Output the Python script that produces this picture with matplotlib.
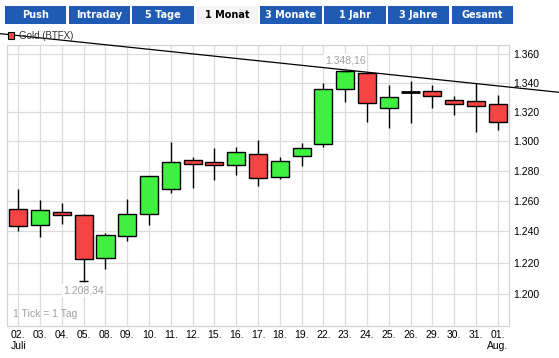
import numpy as np
import matplotlib
matplotlib.use("Agg")
import matplotlib.pyplot as plt
from matplotlib.patches import Rectangle
from matplotlib.ticker import FixedLocator, NullLocator

plt.rcParams['font.family'] = ['Liberation Sans', 'DejaVu Sans']

# Gold (BTFX), daily candles, July 2013
days = ['02.', '03.', '04.', '05.', '08.', '09.', '10.', '11.', '12.', '15.', '16.', '17.',
        '18.', '19.', '22.', '23.', '24.', '25.', '26.', '29.', '30.', '31.', '01.']
opens = [1.2545, 1.2441, 1.2526, 1.2508, 1.2229, 1.2370, 1.2513, 1.2677, 1.2869, 1.2856, 1.2836, 1.2910,
         1.2758, 1.2896, 1.2981, 1.3354, 1.3466, 1.3223, 1.3338, 1.3343, 1.3278, 1.3273, 1.3250]
highs = [1.2679, 1.2606, 1.2585, 1.2515, 1.2391, 1.2613, 1.2765, 1.2993, 1.2892, 1.2952, 1.2959, 1.3006,
         1.2890, 1.2986, 1.3400, 1.34816, 1.3473, 1.3384, 1.3414, 1.3384, 1.3308, 1.3396, 1.3315]
lows = [1.2400, 1.2367, 1.2451, 1.20834, 1.2157, 1.2335, 1.2439, 1.2648, 1.2681, 1.2740, 1.2773, 1.2700,
        1.2743, 1.2827, 1.2961, 1.3268, 1.3131, 1.3090, 1.3124, 1.3227, 1.3179, 1.3059, 1.3076]
closes = [1.2435, 1.2539, 1.2508, 1.2223, 1.2377, 1.2513, 1.2763, 1.2856, 1.2843, 1.2836, 1.2923, 1.2751,
          1.2863, 1.2950, 1.3354, 1.3480, 1.3259, 1.3299, 1.3338, 1.3306, 1.3252, 1.3237, 1.3129]
yticks = [1.200, 1.220, 1.240, 1.260, 1.280, 1.300, 1.320, 1.340, 1.360]
trend_x = [-0.84, 24.81]
trend_y = [1.3747, 1.3333]
tabs = ['Push', 'Intraday', '5 Tage', '1 Monat', '3 Monate', '1 Jahr', '3 Jahre', 'Gesamt']

W, H = 559, 358
fig = plt.figure(figsize=(W / 100, H / 100), dpi=100)

def fx(x):
    return x / W

def fy(y):
    return 1 - y / H

# tab bar
for i, t in enumerate(tabs):
    x0 = 4.7 + i * 63.86
    active = t == '1 Monat'
    fig.patches.append(Rectangle((fx(x0), fy(24)), fx(61.5), 18 / H, transform=fig.transFigure,
                                 facecolor='#f5f5f5' if active else '#1f5bb4', edgecolor='none'))
    fig.text(fx(x0 + 30.75), fy(15.5), t, ha='center', va='center', fontsize=7,
             family='DejaVu Sans', fontweight='bold', color='black' if active else 'white')

ax = fig.add_axes([fx(7), fy(326), fx(509 - 7), (326 - 45) / H])
ax.set_yscale('log')
ax.set_xlim(-0.52, 22.52)
ax.set_ylim(1.1803, 1.3666)

x = np.arange(len(days))
green = '#40f040'
red = '#f44444'
for i in x:
    o, h, l, c = opens[i], highs[i], lows[i], closes[i]
    ax.vlines(i, l, h, color='black', lw=1, zorder=2)
    if abs(c - o) < 1e-4:
        ax.hlines(o, i - 0.42, i + 0.42, color='black', lw=2, zorder=3)
    else:
        ax.bar(i, abs(c - o), bottom=min(o, c), width=0.83, color=green if c > o else red,
               edgecolor='black', linewidth=1, zorder=3)

# high / low markers
i_hi = int(np.argmax(highs))
i_lo = int(np.argmin(lows))
ax.hlines(highs[i_hi], i_hi - 0.2, i_hi + 0.2, color='black', lw=1, zorder=3)
ax.hlines(lows[i_lo], i_lo - 0.2, i_lo + 0.2, color='black', lw=1, zorder=3)
ax.text(i_hi, 1.3555, '1.348,16', ha='center', va='center', fontsize=7.5, color='#a0a0a0',
        bbox=dict(facecolor='white', edgecolor='none', pad=1), zorder=4)
ax.text(i_lo, 1.2022, '1.208,34', ha='center', va='center', fontsize=7.5, color='#a0a0a0',
        bbox=dict(facecolor='white', edgecolor='none', pad=1), zorder=4)
ax.text(0.012, 0.025, '1 Tick = 1 Tag', transform=ax.transAxes, fontsize=7.5, color='#a0a0a0',
        ha='left', va='bottom')

# trend line
ax.plot(trend_x, trend_y, color='black', lw=0.9, clip_on=False, zorder=5)

# axes styling
ax.yaxis.tick_right()
ax.yaxis.set_major_locator(FixedLocator(yticks))
ax.yaxis.set_minor_locator(NullLocator())
ax.set_yticklabels(['%.3f' % v for v in yticks])
labels = list(days)
labels[0] = '02.\nJuli'
labels[-1] = '01.\nAug.'
ax.set_xticks(x)
ax.set_xticklabels(labels, linespacing=1.05)
ax.tick_params(axis='both', length=0, labelsize=7.5, colors='black')
ax.tick_params(axis='x', pad=3)
ax.tick_params(axis='y', pad=3)
ax.grid(True, color='#dcdcdc', lw=0.9)
ax.set_axisbelow(True)
for s in ax.spines.values():
    s.set_color('#d4d4d4')
    s.set_linewidth(0.9)

# legend
fig.patches.append(Rectangle((fx(8), fy(39)), fx(6), 7 / H, transform=fig.transFigure,
                             facecolor=red, edgecolor='black', linewidth=0.8))
fig.text(fx(19), fy(36), 'Gold (BTFX)', ha='left', va='center', fontsize=7, color='#333333')

fig.savefig('out.png', dpi=100)
